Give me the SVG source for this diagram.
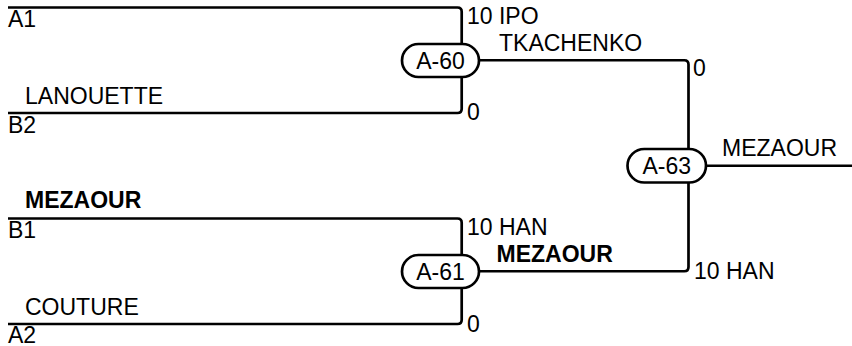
<svg xmlns="http://www.w3.org/2000/svg" width="852" height="346" viewBox="0 0 852 346">
<style>
text{font-family:"Liberation Sans",Arial,sans-serif;font-size:23px;fill:#000}
.b{font-weight:bold}
.c{text-anchor:middle}
.ln{fill:none;stroke:#000;stroke-width:2.7;stroke-linejoin:round}
.nd{fill:#fff;stroke:#000;stroke-width:2.7}
</style>
<rect width="852" height="346" fill="#fff"/>
<g id="connectors">
<path class="ln" d="M8,7.5 H457.5 Q461.7,7.5 461.7,11.7 V44"/>
<path class="ln" d="M461.7,77 V108.8 Q461.7,113 457.5,113 H8"/>
<path class="ln" d="M8,218.5 H457.5 Q461.7,218.5 461.7,222.7 V255"/>
<path class="ln" d="M461.7,288 V319.8 Q461.7,324 457.5,324 H8"/>
<path class="ln" d="M479,60.25 H684.3 Q688.5,60.25 688.5,64.5 V149"/>
<path class="ln" d="M688.5,182.5 V267 Q688.5,271.25 684.3,271.25 H479"/>
<path class="ln" d="M706,165.75 H852"/>
</g>
<g id="labels">
<text x="8" y="27">A1</text>
<text x="25" y="104">LANOUETTE</text>
<text x="8" y="133">B2</text>
<text x="25" y="208" class="b">MEZAOUR</text>
<text x="8" y="238">B1</text>
<text x="25" y="315">COUTURE</text>
<text x="8" y="342.5">A2</text>
<text x="467" y="24">10 IPO</text>
<text x="499" y="50.5">TKACHENKO</text>
<text x="467" y="120">0</text>
<text x="467" y="235">10 HAN</text>
<text x="496.5" y="262" class="b">MEZAOUR</text>
<text x="467" y="331.5">0</text>
<text x="693" y="75.5">0</text>
<text x="694" y="279">10 HAN</text>
<text x="722" y="156">MEZAOUR</text>
</g>
<g id="A-60">
<rect class="nd" x="402" y="44" width="77" height="33" rx="16.5"/>
<text class="c" x="440.5" y="68.5">A-60</text>
</g>
<g id="A-61">
<rect class="nd" x="402" y="255" width="77" height="33" rx="16.5"/>
<text class="c" x="440.5" y="279.5">A-61</text>
</g>
<g id="A-63">
<rect class="nd" x="627.5" y="149" width="78.5" height="33.5" rx="16.75"/>
<text class="c" x="666.7" y="173.8">A-63</text>
</g>
</svg>
